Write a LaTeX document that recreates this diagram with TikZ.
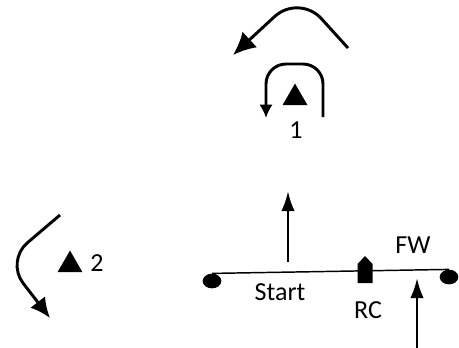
\documentclass[tikz,border=0pt]{standalone}
\usepackage{fontspec}
\setmainfont{Carlito}
\usetikzlibrary{shapes.geometric, arrows.meta}
\tikzstyle{robot}=
[
	regular polygon
	, regular polygon sides=3
	, minimum size=21.7pt
	, inner sep=0pt
	, fill=black
]
\tikzstyle{endpoint}=
[
	ellipse
	, minimum width=14pt
	, minimum height=11pt
	, inner sep=0pt
	, fill=black
]
\tikzstyle{txt}=[font=\fontsize{19.5}{22}\selectfont, inner sep=0pt]
\tikzstyle{arrow} = [line width=1.9pt,-{Latex[length=15pt,width=10pt]}]
\tikzstyle{turn} = [line width=2.2pt,-{Latex[length=15pt,width=14pt]}]
\tikzstyle{line} = [line width=1.1pt,-]
\begin{document}
\begin{tikzpicture}[x=0.75pt, y=-0.75pt]
\useasboundingbox (0,0) rectangle (459,347);

% robots
\node(rob1)[robot] at (295,98) {};
\node(num1)[txt] at (296,130) {1};
\node(rob2)[robot] at (70,265) {};
\node(num2)[txt] at (97,263) {2};

% turning moves
\coordinate(a0) at (348,48);
\coordinate(a1) at (299,-6);
\coordinate(a2) at (233,55);
\draw[turn, -{Latex[length=17pt,width=16pt]}, rounded corners=25pt](a0)--(a1)--(a2);
\coordinate(b0) at (323,117);
\coordinate(b1) at (323,64);
\coordinate(b2) at (266,64);
\coordinate(b3) at (266,118);
\draw[turn, -{Latex[length=10pt,width=10pt]}, rounded corners=15pt](b0)--(b1)--(b2)--(b3);
\coordinate(c0) at (60,215);
\coordinate(c1) at (6,261);
\coordinate(c2) at (50,318);
\draw[turn, rounded corners=21pt](c0)--(c1)--(c2);

% track
\node(left)[endpoint] at (212,281) {};
\node(right)[endpoint] at (449,277) {};
\draw[line](left.north)--(right.north);
\coordinate(rc) at (365,270);
\fill (rc) ++(-7.5,13) -- ++(0,-19) -- ++(7.5,-8) -- ++(7.5,8) -- ++(0,19) -- cycle;

\node(start)[txt] at (280,292) {Start};
\node(rclabel)[txt] at (368,310) {RC};
\node(fw)[txt] at (413,245) {FW};

\coordinate(s0) at (288,262);
\coordinate(s1) at (288,191);
\draw[arrow](s0)--(s1);
\coordinate(f0) at (417,348);
\coordinate(f1) at (417,278);
\draw[arrow](f0)--(f1);

\end{tikzpicture}
\end{document}
